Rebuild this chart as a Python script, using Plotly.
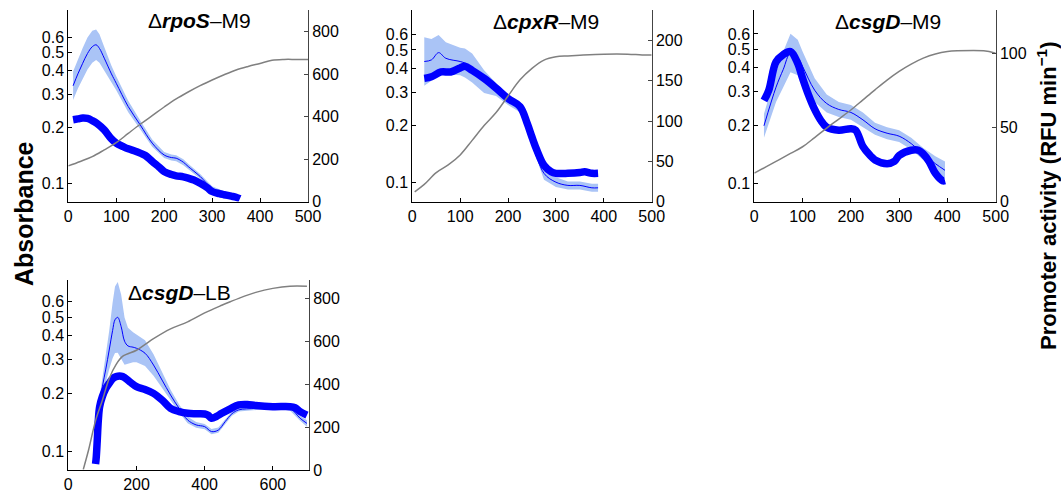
import plotly.graph_objects as go

# ---------------- data ----------------
# Panel 1: ΔrpoS–M9
t_abs1 = [0, 25, 50, 75, 100, 125, 150, 175, 200, 225, 250, 275, 300, 325, 350, 375, 400, 425, 450, 475, 500]
abs1 = [0.124, 0.131, 0.139, 0.151, 0.165, 0.185, 0.207, 0.23, 0.256, 0.283, 0.308, 0.333, 0.357, 0.381, 0.404,
        0.422, 0.438, 0.455, 0.46, 0.46, 0.46]
t_thick1 = [10, 20, 30, 40, 50, 60, 75, 90, 100, 115, 125, 140, 150, 160, 175, 190, 200, 215, 225, 240, 250, 262,
            275, 290, 300, 315, 325, 340, 350, 358]
thick1 = [385, 389, 393, 391, 381, 367, 337, 295, 275, 258, 248, 237, 228, 218, 189, 161, 141, 127, 121, 116, 110, 101,
          86, 65, 47, 37, 32, 25, 20, 13]
t_thin1 = [10, 20, 30, 40, 50, 58, 65, 75, 90, 100, 125, 150, 175, 200, 215, 225, 240, 250, 275, 300, 325, 350]
thin1 = [545, 601, 651, 697, 729, 738, 721, 675, 601, 557, 447, 361, 275, 219, 207, 204, 185, 165, 118, 62, 39, 23]
sd1 = [67, 69, 72, 75, 75, 72, 67, 53, 38, 33, 27, 21, 17, 14, 14, 14, 14, 13, 11, 10, 9, 8]

# Panel 2: ΔcpxR–M9
t_abs2 = [5, 25, 50, 75, 100, 125, 150, 175, 200, 225, 250, 275, 300, 325, 350, 400, 450, 480, 500]
abs2 = [0.0895, 0.098, 0.113, 0.124, 0.140, 0.167, 0.200, 0.234, 0.286, 0.348, 0.400, 0.442, 0.46, 0.465, 0.469,
        0.475, 0.475, 0.47, 0.47]
t_thick2 = [25, 40, 60, 80, 100, 110, 125, 150, 175, 200, 225, 240, 250, 260, 275, 290, 300, 325, 350, 360, 375, 388]
thick2 = [153, 155, 161, 161, 166, 168, 163, 153, 141, 128, 118, 97, 80, 64, 45, 37, 35, 35, 36, 37, 35, 35]
t_thin2 = [25, 40, 55, 70, 100, 110, 125, 150, 175, 200, 225, 250, 275, 300, 325, 350, 375, 388]
thin2 = [174, 176, 185, 178, 174, 172, 166, 149, 139, 126, 116, 76, 35, 24, 20, 20, 17, 17]
sd2 = [30, 26, 22, 20, 17, 18, 18, 14, 8, 6, 5, 6, 8, 6, 5, 5, 5, 5]

# Panel 3: ΔcsgD–M9
t_abs3 = [0, 25, 50, 75, 100, 125, 150, 175, 200, 225, 250, 275, 300, 325, 350, 375, 400, 420, 475, 500]
abs3 = [0.113, 0.122, 0.132, 0.143, 0.155, 0.173, 0.194, 0.216, 0.241, 0.272, 0.307, 0.345, 0.383, 0.418, 0.449,
        0.472, 0.486, 0.49, 0.49, 0.476]
t_thick3 = [20, 30, 45, 60, 75, 90, 100, 112, 125, 137, 150, 175, 200, 210, 225, 240, 250, 275, 290, 300, 325, 340,
            350, 362, 375, 390, 395]
thick3 = [68, 75, 94, 99, 101, 93, 83, 72, 62, 55, 50, 48, 49, 48, 37, 31, 28, 25.5, 27, 31, 34.5, 34.5, 32, 27, 19,
          14, 14]
t_thin3 = [20, 45, 60, 75, 90, 100, 125, 150, 175, 200, 225, 250, 275, 300, 325, 350, 375, 395]
thin3 = [51, 77, 89, 100, 97, 91, 75, 66, 62, 60, 55, 49, 46, 44, 39, 32, 25.5, 21]
sd3 = [8, 10, 12, 13, 12, 10, 8, 6, 5, 5, 5, 4, 4, 4, 4, 4, 5, 6]

# Panel 4: ΔcsgD–LB
t_abs4 = [44, 60, 80, 100, 120, 140, 160, 200, 230, 250, 300, 350, 400, 450, 475, 500, 550, 600, 650, 700]
abs4 = [0.081, 0.103, 0.145, 0.185, 0.24, 0.283, 0.313, 0.336, 0.365, 0.386, 0.434, 0.472, 0.525, 0.575, 0.6, 0.625,
        0.671, 0.704, 0.723, 0.723]
t_thick4 = [80, 82, 85, 88, 92, 100, 110, 120, 130, 140, 160, 180, 200, 225, 250, 275, 300, 325, 350, 375, 400, 410,
            420, 435, 450, 475, 500, 525, 550, 600, 650, 665, 680, 700]
thick4 = [28, 60, 140, 230, 295, 342, 380, 404, 425, 435, 435, 411, 388, 375, 357, 326, 287, 272, 264, 262, 261, 255,
          241, 250, 264, 285, 303, 305, 300, 295, 295, 290, 272, 256]
t_thin4 = [80, 85, 90, 100, 110, 120, 130, 137, 145, 155, 165, 175, 190, 200, 225, 250, 275, 300, 325, 350, 375, 400,
           420, 440, 460, 480, 500, 550, 600, 650, 680, 700]
thin4 = [31, 150, 295, 388, 470, 559, 650, 700, 711, 668, 600, 578, 572, 567, 544, 489, 419, 349, 287, 233, 210, 202,
         179, 186, 225, 262, 280, 287, 295, 287, 241, 217]
sd4 = [10, 20, 30, 40, 60, 90, 130, 155, 165, 150, 110, 85, 70, 65, 60, 50, 35, 25, 18, 15, 13, 12, 12, 12, 10, 9, 8,
       8, 8, 10, 12, 15]

titles = ["Δ<b><i>rpoS</i></b>–M9", "Δ<b><i>cpxR</i></b>–M9", "Δ<b><i>csgD</i></b>–M9", "Δ<b><i>csgD</i></b>–LB"]
abs_ticks = [0.1, 0.2, 0.3, 0.4, 0.5, 0.6]
act_ticks = [[0, 200, 400, 600, 800], [0, 50, 100, 150, 200], [0, 50, 100], [0, 200, 400, 600, 800]]
time_ticks = [[0, 100, 200, 300, 400, 500]] * 3 + [[0, 200, 400, 600]]

# ---------------- layout geometry ----------------
W, H = 1061, 492
FONT = "Liberation Sans, Arial, sans-serif"
GRAY = "#808080"
BLUE = "#0000ff"
BAND = "#aac4f6"


def fx(px):
    return px / W


def fy(py):
    return 1 - py / H


panels = [
    dict(t_abs=t_abs1, a=abs1, t_thick=t_thick1, thick=thick1, t_thin=t_thin1, thin=thin1, sd=sd1,
         px=(68.3, 308.0), py=(10, 201.5), xr=[0, 500], lr=[-1.097, -0.073], rr=[0, 902], title_xy=(199, 20)),
    dict(t_abs=t_abs2, a=abs2, t_thick=t_thick2, thick=thick2, t_thin=t_thin2, thin=thin2, sd=sd2,
         px=(412.3, 651.7), py=(10, 201.5), xr=[0, 500], lr=[-1.099, -0.091], rr=[0, 238], title_xy=(546, 22)),
    dict(t_abs=t_abs3, a=abs3, t_thick=t_thick3, thick=thick3, t_thin=t_thin3, thin=thin3, sd=sd3,
         px=(754.3, 995.7), py=(10, 201.5), xr=[0, 500], lr=[-1.095, -0.097], rr=[0, 129], title_xy=(888, 22)),
    dict(t_abs=t_abs4, a=abs4, t_thick=t_thick4, thick=thick4, t_thin=t_thin4, thin=thin4, sd=sd4,
         px=(68.3, 309.0), py=(280, 470), xr=[0, 706], lr=[-1.095, -0.109], rr=[0, 885], title_xy=(179, 292)),
]

fig = go.Figure()
layout = dict(width=W, height=H, autosize=False, margin=dict(l=0, r=0, t=0, b=0, pad=0, autoexpand=False),
              paper_bgcolor="white", plot_bgcolor="rgba(0,0,0,0)", showlegend=False,
              font=dict(family=FONT, size=16, color="black"))
annotations = []

for i, p in enumerate(panels):
    k = i + 1
    xa = f"x{k}"
    ya_r = f"y{k}"          # right axis: promoter activity (base)
    ya_l = f"y{k + 4}"      # left axis: absorbance (log, overlaying)
    xdom = [fx(p["px"][0]), fx(p["px"][1])]
    ydom = [fy(p["py"][1]), fy(p["py"][0])]

    upper = [m + s for m, s in zip(p["thin"], p["sd"])]
    lower = [m - s for m, s in zip(p["thin"], p["sd"])]
    fig.add_trace(go.Scatter(x=p["t_thin"] + p["t_thin"][::-1], y=upper + lower[::-1], fill="toself",
                             fillcolor=BAND, line=dict(width=0), mode="lines", hoverinfo="skip",
                             xaxis=xa, yaxis=ya_r))
    fig.add_trace(go.Scatter(x=p["t_thin"], y=p["thin"], mode="lines", line=dict(color=BLUE, width=1),
                             line_shape="spline", xaxis=xa, yaxis=ya_r))
    fig.add_trace(go.Scatter(x=p["t_thick"], y=p["thick"], mode="lines", line=dict(color=BLUE, width=7.5),
                             line_shape="spline", xaxis=xa, yaxis=ya_r))
    fig.add_trace(go.Scatter(x=p["t_abs"], y=p["a"], mode="lines", line=dict(color=GRAY, width=1.5),
                             line_shape="spline", xaxis=xa, yaxis=ya_l))

    xkey = "xaxis" if k == 1 else f"xaxis{k}"
    layout[xkey] = dict(domain=xdom, anchor=ya_r, range=p["xr"], tickvals=time_ticks[i], automargin=False,
                        showline=True, linecolor="black", linewidth=1, ticks="inside", ticklen=4,
                        tickcolor="black", showgrid=False, zeroline=False, tickfont=dict(size=16))
    yr_key = "yaxis" if k == 1 else f"yaxis{k}"
    layout[yr_key] = dict(domain=ydom, anchor=xa, side="right", range=p["rr"], tickvals=act_ticks[i],
                          automargin=False,
                          showline=True, linecolor="#444", linewidth=1, ticks="inside", ticklen=4,
                          tickcolor="#444", showgrid=False, zeroline=False, tickfont=dict(size=16))
    layout[f"yaxis{k + 4}"] = dict(overlaying=ya_r, anchor=xa, side="left", type="log", range=p["lr"],
                                   tickvals=abs_ticks, ticktext=[str(v) for v in abs_ticks], automargin=False,
                                   showline=True, linecolor="black", linewidth=1, ticks="inside", ticklen=4,
                                   tickcolor="black", showgrid=False, zeroline=False, tickfont=dict(size=16))
    tx, ty = p["title_xy"]
    annotations.append(dict(x=fx(tx), y=fy(ty), xref="paper", yref="paper", text=titles[i],
                            showarrow=False, xanchor="center", yanchor="middle", font=dict(size=21)))

annotations.append(dict(x=fx(24), y=fy(214), xref="paper", yref="paper", text="<b>Absorbance</b>",
                        textangle=-90, showarrow=False, xanchor="center", yanchor="middle", font=dict(size=25)))
annotations.append(dict(x=fx(1047), y=fy(196), xref="paper", yref="paper",
                        text="<b>Promoter activity (RFU min<sup>−1</sup>)</b>",
                        textangle=-90, showarrow=False, xanchor="center", yanchor="middle", font=dict(size=22)))
layout["annotations"] = annotations
fig.update_layout(**layout)
fig.write_html("out.html", config={"displayModeBar": False},
               post_script="document.body.style.margin='0';document.body.style.overflow='hidden';")
